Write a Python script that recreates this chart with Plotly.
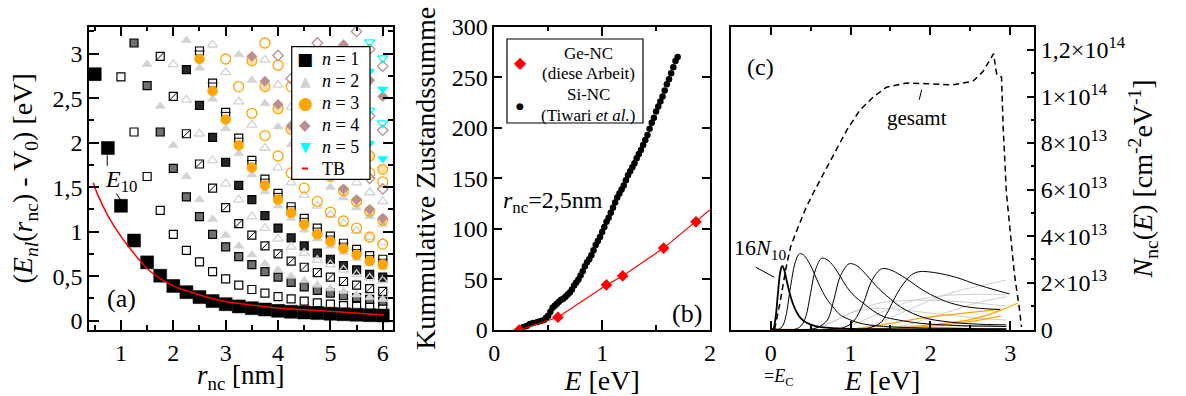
import plotly.graph_objects as go

W, H = 1186, 396
FONT = "Liberation Serif, Times New Roman, Times, serif"


def px(x):
    return x / W


def py(y):
    return 1 - y / H


# ---------------- Panel (a): energy levels vs. radius ----------------
R_NC = [0.5, 0.75, 1.0, 1.25, 1.5, 1.75, 2.0, 2.25, 2.5, 2.75, 3.0, 3.25,
        3.5, 3.75, 4.0, 4.25, 4.5, 4.75, 5.0, 5.25, 5.5, 5.75, 6.0]

E_N1_L0 = [2.77, 1.94, 1.29, 0.90, 0.655, 0.505, 0.39, 0.32, 0.265, 0.22, 0.185, 0.16,
           0.14, 0.125, 0.11, 0.10, 0.092, 0.085, 0.078, 0.072, 0.067, 0.062, 0.058]
E_N1_L1 = [None, None, 2.74, 2.12, 1.62, 1.24, 0.97, 0.79, 0.66, 0.55, 0.47, 0.40,
           0.35, 0.31, 0.27, 0.245, 0.22, 0.20, 0.185, 0.17, 0.16, 0.15, 0.14]
E_N1_L2 = [None, None, None, 3.12, 2.64, 2.12, 1.71, 1.39, 1.17, 0.97, 0.83, 0.72,
           0.63, 0.55, 0.49, 0.43, 0.38, 0.34, 0.31, 0.28, 0.26, 0.24, 0.22]
E_N1_L3 = [None] * 5 + [2.97, 2.52, 2.10, 1.76, 1.49, 1.27, 1.09, 0.96, 0.84, 0.75,
                        0.67, 0.60, 0.54, 0.49, 0.44, 0.40, 0.36, 0.33]
E_N1_L4 = [None] * 7 + [2.82, 2.42, 2.06, 1.78, 1.52, 1.36, 1.18, 1.04, 0.93, 0.84,
                        0.76, 0.69, 0.62, 0.57, 0.52, 0.49]
E_N1_L5 = [None] * 8 + [3.03, 2.67, 2.34, 2.05, 1.80, 1.59, 1.43, 1.28, 1.15, 1.04,
                        0.95, 0.87, 0.80, 0.73, 0.69]

E_N2_A = [None] * 4 + [2.88, 2.41, 1.97, 1.62, 1.36, 1.14, 0.96, 0.84, 0.74, 0.64,
                       0.57, 0.50, 0.45, 0.40, 0.36, 0.33, 0.29, 0.26, 0.24]
E_N2_B = [None] * 6 + [2.88, 2.48, 2.10, 1.80, 1.54, 1.36, 1.17, 1.04, 0.92, 0.83,
                       0.76, 0.68, 0.63, 0.57, 0.52, 0.48, 0.45]
E_N2_C = [None] * 9 + [3.10, 2.79, 2.46, 2.20, 1.94, 1.72, 1.55, 1.41, 1.29, 1.19,
                       1.09, 1.01, 0.94, 0.88]
E_N2_D = [None] * 7 + [3.15, 2.84, 2.49, 2.16, 1.88, 1.64, 1.45, 1.29, 1.15, 1.02,
                       0.92, 0.84, 0.77, 0.70, 0.64, 0.60]
E_N2_E = [None] * 11 + [2.99, 2.70, 2.44, 2.18, 1.98, 1.80, 1.64, 1.50, 1.38, 1.27,
                        1.17, 1.08]
E_N2_F = [None] * 13 + [2.93, 2.65, 2.40, 2.18, 1.99, 1.83, 1.68, 1.55, 1.44, 1.34]

E_N3_A = [None] * 8 + [2.94, 2.58, 2.26, 1.97, 1.72, 1.52, 1.36, 1.21, 1.08, 0.97,
                       0.89, 0.81, 0.74, 0.67, 0.63]
E_N3_B = [None] * 10 + [2.94, 2.63, 2.33, 2.08, 1.85, 1.66, 1.49, 1.34, 1.22, 1.12,
                        1.04, 0.94, 0.86]
E_N3_C = [None] * 13 + [3.12, 2.87, 2.63, 2.42, 2.22, 2.05, 1.90, 1.77, 1.66, 1.56]
E_N3_D = [None] * 12 + [2.92, 2.63, 2.38, 2.15, 1.95, 1.78, 1.62, 1.46, 1.34, 1.23, 1.13]
E_N3_E = [None] * 20 + [2.02, 1.85, 1.70]

E_N4_A = [None] * 12 + [2.97, 2.69, 2.43, 2.19, 1.98, 1.80, 1.63, 1.48, 1.36, 1.25, 1.15]
E_N4_B = [None] * 19 + [3.10, 2.89, 2.70, 2.52]
E_N4_C = [None] * 14 + [2.98, 2.72, 2.48, 2.27, 2.08, 1.92, 1.78, 1.60, 1.48]
E_N4_D = [None] * 17 + [3.12, 2.88, 2.67, 2.48, 2.30, 2.14]
E_N4_E = [None] * 20 + [3.25, 3.05, 2.86]

E_N5_A = [None] * 19 + [2.45, 2.20, 1.99, 1.82]
E_N5_B = [None] * 21 + [2.80, 2.60]
E_N5_C = [None] * 21 + [3.13, 2.95]
E_N5_D = [None] * 21 + [2.36, 2.22]

R_TB = [0.47, 0.56, 0.76, 1.02, 1.27, 1.53, 1.78, 2.04, 2.29, 2.55, 2.8, 3.05, 3.3,
        3.93, 4.56, 5.2, 6.02]
E_TB = [1.55, 1.41, 1.17, 0.93, 0.74, 0.57, 0.46, 0.38, 0.33, 0.28, 0.24, 0.21, 0.19,
        0.146, 0.12, 0.097, 0.064]

LEGEND_A = ["<i>n</i> = 1", "<i>n</i> = 2", "<i>n</i> = 3", "<i>n</i> = 4",
            "<i>n</i> = 5", "TB"]

# ---------------- Panel (b): cumulative state count ----------------
E_SI = [0.27, 0.30, 0.33, 0.36, 0.40, 0.43, 0.46, 0.48, 0.50, 0.52, 0.54, 0.56, 0.58,
        0.60, 0.62, 0.64, 0.66, 0.68, 0.70, 0.72, 0.74, 0.76, 0.78, 0.80, 0.82, 0.84,
        0.86, 0.88, 0.90, 0.92, 0.94, 0.96, 0.98, 1.00, 1.02, 1.04, 1.06, 1.08, 1.10,
        1.12, 1.14, 1.16, 1.18, 1.20, 1.22, 1.24, 1.26, 1.28, 1.30, 1.32, 1.34, 1.36,
        1.38, 1.40, 1.42, 1.44, 1.46, 1.48, 1.50, 1.52, 1.54, 1.56, 1.58, 1.60, 1.62,
        1.64, 1.66, 1.68, 1.70]
N_SI = [3, 4, 6, 7, 8, 9, 10, 12, 14, 18, 22, 24, 26,
        28, 30, 31, 33, 35, 37, 40, 44, 47, 50, 54, 58, 63,
        67, 70, 74, 79, 84, 88, 92, 97, 102, 107, 111, 116, 121,
        126, 131, 135, 139, 143, 148, 153, 157, 161, 165, 170, 174, 178,
        183, 188, 193, 199, 205, 210, 216, 221, 226, 231, 237, 243, 248,
        254, 260, 266, 270]

E_GE = [0.23, 0.59, 1.04, 1.19, 1.57, 1.87]
N_GE = [0, 12.6, 44.6, 53.5, 81, 107]
E_GE_FIT = [0.23, 0.59, 1.04, 1.19, 1.57, 1.87, 2.0]
N_GE_FIT = [0, 12.6, 44.6, 53.5, 81, 107, 119]

LEGEND_B = [("Ge-NC", "(diese Arbeit)"), ("Si-NC", "(Tiwari <i>et al.</i>)")]

# ---------------- Panel (c): density of states (units 1e13 cm^-2 eV^-1) ----------------
E_C1 = [0.0, 0.03, 0.06, 0.09, 0.12, 0.145, 0.17, 0.2, 0.25, 0.3, 0.37, 0.45, 0.55,
        0.7, 0.9, 1.2, 1.6, 2.0, 2.5, 2.95]
N_C1 = [0, 0, 0.45, 1.5, 2.45, 2.72, 2.55, 2.1, 1.4, 0.92, 0.5, 0.28, 0.15,
        0.07, 0.03, 0.01, 0, 0, 0, 0]
E_C2 = [0.0, 0.1, 0.15, 0.19, 0.25, 0.31, 0.36, 0.41, 0.46, 0.52, 0.58, 0.65, 0.71,
        0.8, 0.87, 1.0, 1.12, 1.3, 1.54, 2.0, 2.5, 2.95]
N_C2 = [0, 0, 0.15, 0.55, 1.85, 2.9, 3.24, 3.2, 2.98, 2.6, 2.12, 1.62, 1.26,
        0.88, 0.62, 0.4, 0.26, 0.16, 0.1, 0.05, 0.03, 0.02]
E_C3 = [0.0, 0.3, 0.38, 0.44, 0.5, 0.56, 0.64, 0.71, 0.79, 0.87, 0.95, 1.05, 1.16,
        1.28, 1.41, 1.6, 1.87, 2.2, 2.6, 2.95]
N_C3 = [0, 0, 0.15, 0.55, 1.55, 2.55, 3.05, 2.98, 2.7, 2.28, 1.83, 1.42, 1.12,
        0.8, 0.55, 0.4, 0.26, 0.18, 0.14, 0.12]
E_C4 = [0.0, 0.5, 0.6, 0.71, 0.79, 0.87, 0.98, 1.07, 1.16, 1.26, 1.37, 1.5, 1.62,
        1.78, 1.95, 2.15, 2.36, 2.6, 2.8, 2.95]
N_C4 = [0, 0, 0.1, 0.4, 1.26, 2.26, 2.81, 2.75, 2.48, 2.1, 1.69, 1.3, 0.97,
        0.68, 0.47, 0.35, 0.27, 0.22, 0.2, 0.19]
E_C5 = [0.0, 0.8, 0.92, 1.04, 1.16, 1.27, 1.39, 1.5, 1.62, 1.75, 1.87, 2.0, 2.2,
        2.4, 2.53, 2.7, 2.87]
N_C5 = [0, 0, 0.08, 0.35, 1.12, 2.12, 2.6, 2.55, 2.34, 2.05, 1.76, 1.5, 1.19,
        1.0, 0.93, 0.88, 0.85]
E_C6 = [0.0, 1.15, 1.25, 1.37, 1.45, 1.54, 1.62, 1.7, 1.78, 1.87, 2.0, 2.2, 2.37,
        2.53, 2.7, 2.85, 2.99]
N_C6 = [0, 0, 0.08, 0.26, 0.65, 1.26, 1.75, 2.12, 2.38, 2.48, 2.46, 2.34, 2.18,
        1.98, 1.8, 1.65, 1.52]

E_G1 = [0.0, 0.45, 0.6, 0.8, 1.0, 1.2, 1.4, 1.6, 1.8, 2.0, 2.2, 2.4, 2.6, 2.8, 2.95]
N_G1 = [0, 0, 0.1, 0.35, 0.7, 0.98, 1.15, 1.22, 1.25, 1.25, 1.22, 1.18, 1.12, 1.05, 1.0]
E_G2 = [0.0, 0.7, 0.9, 1.1, 1.3, 1.5, 1.7, 1.9, 2.1, 2.3, 2.5, 2.7, 2.95]
N_G2 = [0, 0, 0.1, 0.3, 0.6, 0.9, 1.15, 1.32, 1.42, 1.48, 1.5, 1.5, 1.48]
E_G3 = [0.0, 1.0, 1.2, 1.4, 1.6, 1.8, 2.0, 2.2, 2.4, 2.6, 2.8, 2.95]
N_G3 = [0, 0, 0.12, 0.35, 0.65, 0.95, 1.25, 1.5, 1.7, 1.85, 2.0, 2.12]
E_G4 = [0.0, 1.4, 1.6, 1.8, 2.0, 2.2, 2.4, 2.6, 2.8, 2.95]
N_G4 = [0, 0, 0.1, 0.28, 0.5, 0.72, 0.95, 1.15, 1.3, 1.4]
E_G5 = [0.0, 0.5, 0.7, 0.9, 1.1, 1.3, 1.5, 1.8, 2.1, 2.4, 2.7, 2.95]
N_G5 = [0, 0, 0.2, 0.55, 0.8, 0.9, 0.88, 0.78, 0.65, 0.55, 0.45, 0.4]

E_O1 = [0.0, 0.9, 1.2, 1.5, 1.87, 2.28, 2.6, 2.88]
N_O1 = [0, 0, 0.08, 0.25, 0.47, 0.64, 0.76, 0.88]
E_O2 = [0.0, 1.1, 1.5, 1.9, 2.28, 2.5, 2.7, 2.9, 3.09]
N_O2 = [0, 0, 0.06, 0.16, 0.3, 0.42, 0.6, 0.85, 1.12]
E_O3 = [0.0, 1.4, 1.8, 2.2, 2.5, 2.7, 2.88]
N_O3 = [0, 0, 0.08, 0.2, 0.33, 0.45, 0.58]
E_P1 = [0.0, 1.5, 2.0, 2.5, 2.9]
N_P1 = [0, 0, 0.05, 0.12, 0.2]

E_TOT = [0.05, 0.12, 0.19, 0.25, 0.33, 0.44, 0.54, 0.75, 0.955, 1.12, 1.29, 1.45, 1.70,
         1.95, 2.28, 2.53, 2.66, 2.79, 2.83, 2.89, 2.91, 2.95, 2.99, 3.05, 3.11, 3.14]
N_TOT = [0, 1.2, 2.6, 3.55, 4.27, 5.2, 5.9, 7.28, 8.57, 9.43, 10.0, 10.4, 10.58,
         10.55, 10.5, 10.65, 11.08, 11.84, 10.94, 10.84, 8.7, 5.9, 4.56, 2.4, 0.97, 0.1]

C_YTICKS = [0, 2, 4, 6, 8, 10, 12]
C_YTEXT = ["0", "2×10<sup>13</sup>", "4×10<sup>13</sup>", "6×10<sup>13</sup>",
           "8×10<sup>13</sup>", "1×10<sup>14</sup>", "1,2×10<sup>14</sup>"]

# ====================================================================
fig = go.Figure()


def add_levels(vals, **marker):
    xs = [r for r, v in zip(R_NC, vals) if v is not None]
    ys = [v for v in vals if v is not None]
    fig.add_trace(go.Scatter(x=xs, y=ys, mode="markers", marker=marker,
                             showlegend=False, hoverinfo="skip",
                             xaxis="x", yaxis="y"))


BLK = dict(color="black", width=1.2)
GRAY = "#d3d3d3"
ORANGE = "#ffa500"
ROSY = "#bc8f8f"
CYAN = "#00ffff"

# n = 1 (squares)
add_levels(E_N1_L1, symbol="square", size=8, color="white", line=BLK)
add_levels(E_N1_L2, symbol="square", size=8, color="#707070", line=BLK)
add_levels(E_N1_L3, symbol="square", size=8, color="white", line=BLK)
add_levels(E_N1_L3, symbol="line-ne", size=7, line=dict(color="black", width=1))
add_levels(E_N1_L4, symbol="square", size=8, color="#262626", line=BLK)
add_levels(E_N1_L5, symbol="square", size=8, color="white", line=BLK)
add_levels(E_N1_L5, symbol="line-ew", size=7, line=dict(color="black", width=1))
add_levels(E_N1_L0, symbol="square", size=13, color="black", line=dict(color="black", width=0.5))
# n = 2 (triangles)
for vals in (E_N2_A, E_N2_D, E_N2_E):
    add_levels(vals, symbol="triangle-up", size=9, color=GRAY, line=dict(color=GRAY, width=0.5))
for vals in (E_N2_B, E_N2_C, E_N2_F):
    add_levels(vals, symbol="triangle-up-open", size=9, color=GRAY, line=dict(color=GRAY, width=1.3))
# n = 3 (circles)
add_levels(E_N3_A, symbol="circle", size=10, color=ORANGE, line=dict(color=ORANGE, width=0.5))
for vals in (E_N3_B, E_N3_C):
    add_levels(vals, symbol="circle-open", size=10, color=ORANGE, line=dict(color=ORANGE, width=1.3))
for vals in (E_N3_D, E_N3_E):
    add_levels(vals, symbol="circle", size=10, color="rgba(255,165,0,0.35)", line=dict(color=ORANGE, width=1.2))
# n = 4 (diamonds)
for vals in (E_N4_A, E_N4_B):
    add_levels(vals, symbol="diamond", size=8, color=ROSY, line=dict(color=ROSY, width=0.5))
for vals in (E_N4_C, E_N4_D, E_N4_E):
    add_levels(vals, symbol="diamond-open", size=8, color=ROSY, line=dict(color=ROSY, width=1.3))
# n = 5 (down triangles)
for vals in (E_N5_A, E_N5_B):
    add_levels(vals, symbol="triangle-down", size=9, color=CYAN, line=dict(color=CYAN, width=0.5))
for vals in (E_N5_C, E_N5_D):
    add_levels(vals, symbol="triangle-down-open", size=9, color=CYAN, line=dict(color=CYAN, width=1.3))
# TB
fig.add_trace(go.Scatter(x=R_TB, y=E_TB, mode="lines", line=dict(color="red", width=1.5, shape="spline"),
                         showlegend=False, hoverinfo="skip", xaxis="x", yaxis="y"))

# ---- panel (b)
fig.add_trace(go.Scatter(x=E_SI, y=N_SI, mode="markers", marker=dict(color="black", size=6.5),
                         showlegend=False, hoverinfo="skip", xaxis="x2", yaxis="y2"))
fig.add_trace(go.Scatter(x=E_GE_FIT, y=N_GE_FIT, mode="lines", line=dict(color="red", width=1.2),
                         showlegend=False, hoverinfo="skip", xaxis="x2", yaxis="y2"))
fig.add_trace(go.Scatter(x=E_GE, y=N_GE, mode="markers",
                         marker=dict(color="red", symbol="diamond", size=9),
                         showlegend=False, hoverinfo="skip", xaxis="x2", yaxis="y2"))

# ---- panel (c)


def add_dos(xs, ys, color, width=1.0, dash=None, shape="spline"):
    fig.add_trace(go.Scatter(x=xs, y=ys, mode="lines",
                             line=dict(color=color, width=width, dash=dash, shape=shape),
                             showlegend=False, hoverinfo="skip", xaxis="x3", yaxis="y3"))


for xs, ys in ((E_G1, N_G1), (E_G2, N_G2), (E_G3, N_G3), (E_G4, N_G4), (E_G5, N_G5)):
    add_dos(xs, ys, "#cfcfcf")
add_dos(E_P1, N_P1, "#c99a9a")
for xs, ys in ((E_O1, N_O1), (E_O2, N_O2), (E_O3, N_O3)):
    add_dos(xs, ys, ORANGE, 1.3)
for xs, ys in ((E_C2, N_C2), (E_C3, N_C3), (E_C4, N_C4), (E_C5, N_C5), (E_C6, N_C6)):
    add_dos(xs, ys, "black", 1.0)
add_dos(E_C1, N_C1, "black", 1.8)
add_dos(E_TOT, N_TOT, "black", 1.5, dash="6px,4px", shape="linear")

# ====================================================================
TICKFONT = dict(family=FONT, size=24, color="black")
TITLEFONT = dict(family=FONT, size=28, color="black")
AX = dict(showline=True, linecolor="black", linewidth=1.5, ticks="inside", tickcolor="black",
          tickwidth=1.5, showgrid=False, zeroline=False, tickfont=TICKFONT)
YA_DOM = [py(330), py(26.7)]

fig.update_layout(
    width=W, height=H, margin=dict(l=0, r=0, t=0, b=0),
    template="none", paper_bgcolor="white", plot_bgcolor="white", showlegend=False,
    separators=",.", hovermode=False, font=dict(family=FONT, color="black"),
    xaxis=dict(AX, domain=[px(89), px(392.7)], range=[0.39, 6.19], anchor="y",
               tick0=0, dtick=1, ticklen=10, mirror="ticks",
               minor=dict(ticks="inside", ticklen=5, dtick=0.5, tick0=0, tickcolor="black", tickwidth=1.5)),
    yaxis=dict(AX, domain=YA_DOM, range=[-0.105, 3.303], anchor="x",
               tick0=0, dtick=0.5, ticklen=10, mirror="ticks",
               minor=dict(ticks="inside", ticklen=5, dtick=0.25, tick0=0, tickcolor="black", tickwidth=1.5),
               title=dict(text="(<i>E</i><sub><i>nl</i></sub>(<i>r</i><sub>nc</sub>) - V<sub>0</sub>) [eV]",
                          font=TITLEFONT, standoff=12)),
    xaxis2=dict(AX, domain=[px(494.3), px(710)], range=[0, 2], anchor="y2",
                tick0=0, dtick=1, ticklen=10, mirror="ticks",
                minor=dict(ticks="inside", ticklen=5, dtick=0.5, tick0=0, tickcolor="black", tickwidth=1.5),
                title=dict(text="<i>E</i> [eV]", font=TITLEFONT, standoff=3)),
    yaxis2=dict(AX, domain=YA_DOM, range=[0, 300], anchor="x2",
                tick0=0, dtick=50, ticklen=8, mirror="ticks",
                title=dict(text="Kummulative Zustandssumme", font=TITLEFONT, standoff=8)),
    xaxis3=dict(AX, domain=[px(730.7), px(1034.3)], range=[-0.5, 3.3], anchor="y3",
                tick0=0, dtick=1, ticklen=9, mirror="ticks",
                minor=dict(ticks="inside", ticklen=5, dtick=0.5, tick0=0, tickcolor="black", tickwidth=1.5),
                title=dict(text="<i>E</i> [eV]", font=TITLEFONT, standoff=3)),
    yaxis3=dict(AX, domain=YA_DOM, range=[-0.03, 13.0], anchor="x3", side="right",
                tickmode="array", tickvals=C_YTICKS, ticktext=C_YTEXT, ticklen=8, mirror=True,
                minor=dict(ticks="inside", ticklen=4, tickmode="array", tickvals=[1, 3, 5, 7, 9, 11],
                           tickcolor="black", tickwidth=1.5),
                title=dict(text="<i>N</i><sub>nc</sub>(<i>E</i>) [cm<sup>-2</sup>eV<sup>-1</sup>]",
                           font=TITLEFONT, standoff=8)),
)

# ---- legend box for panel (a)
fig.add_shape(type="rect", xref="paper", yref="paper", x0=px(291.7), x1=px(370),
              y0=py(179.3), y1=py(46.7), line=dict(color="black", width=1.2),
              fillcolor="white", layer="above")
ROW_Y = [59, 81, 103, 125, 147, 168.5]
GLYPHS = [("■", "black", 17), ("▲", GRAY, 14), ("●", ORANGE, 17), ("◆", ROSY, 15), ("▼", CYAN, 14)]
for (g, c, s), yy in zip(GLYPHS, ROW_Y):
    fig.add_annotation(x=px(305), y=py(yy), xref="paper", yref="paper", text=g, showarrow=False,
                       font=dict(family="DejaVu Sans", size=s, color=c), xanchor="center", yanchor="middle")
fig.add_shape(type="line", xref="paper", yref="paper", x0=px(302), x1=px(308),
              y0=py(ROW_Y[5]), y1=py(ROW_Y[5]), line=dict(color="red", width=2), layer="above")
for txt, yy in zip(LEGEND_A, ROW_Y):
    fig.add_annotation(x=px(321), y=py(yy), xref="paper", yref="paper", text=txt, showarrow=False,
                       font=dict(family=FONT, size=18, color="black"), xanchor="left", yanchor="middle",
                       borderpad=0)

# ---- legend box for panel (b)
fig.add_shape(type="rect", xref="paper", yref="paper", x0=px(507), x1=px(643),
              y0=py(123), y1=py(39), line=dict(color="black", width=1.2),
              fillcolor="white", layer="above")
fig.add_annotation(x=px(520), y=py(63), xref="paper", yref="paper", text="◆", showarrow=False,
                   font=dict(family="DejaVu Sans", size=16, color="red"), xanchor="center", yanchor="middle")
fig.add_annotation(x=px(520), y=py(106), xref="paper", yref="paper", text="●", showarrow=False,
                   font=dict(family="DejaVu Sans", size=9, color="black"), xanchor="center", yanchor="middle")
for (l1, l2), (y1, y2) in zip(LEGEND_B, ((53, 73), (95, 115))):
    for txt, yy in ((l1, y1), (l2, y2)):
        fig.add_annotation(x=px(588), y=py(yy), xref="paper", yref="paper", text=txt, showarrow=False,
                           font=dict(family=FONT, size=17, color="black"), xanchor="center",
                           yanchor="middle", borderpad=0)

# ---- texts / labels


def label(text, x, y, size, xanchor="center", yanchor="middle"):
    fig.add_annotation(x=px(x), y=py(y), xref="paper", yref="paper", text=text, showarrow=False,
                       font=dict(family=FONT, size=size, color="black"), xanchor=xanchor, yanchor=yanchor,
                       borderpad=0)


label("<i>r</i><sub>nc</sub> [nm]", 241, 395, 27, yanchor="bottom")
label("(a)", 121.7, 298.3, 26)
label("<i>E</i><sub>10</sub>", 121, 181, 24)
label("(b)", 686.7, 313.3, 26)
label("<i>r</i><sub>nc</sub>=2,5nm", 501.7, 202, 24, xanchor="left")
label("(c)", 760, 66.7, 24)
label("gesamt", 916.7, 118.3, 21)
label("16<i>N</i><sub>10</sub>", 760, 249, 22)
label("=<i>E</i><sub>C</sub>", 779, 377, 18)

# leader lines
fig.add_shape(type="line", xref="x", yref="y", x0=0.738, x1=0.738, y0=1.86, y1=1.74,
              line=dict(color="black", width=1))
fig.add_shape(type="line", xref="x", yref="y", x0=0.91, x1=0.99, y0=1.43, y1=1.36,
              line=dict(color="black", width=1))
fig.add_shape(type="line", xref="x3", yref="y3", x0=1.86, x1=1.89, y0=9.86, y1=10.29,
              line=dict(color="black", width=1))
fig.add_shape(type="line", xref="x3", yref="y3", x0=-0.187, x1=0.042, y0=2.67, y1=2.24,
              line=dict(color="black", width=1))

fig.write_html("out.html")
